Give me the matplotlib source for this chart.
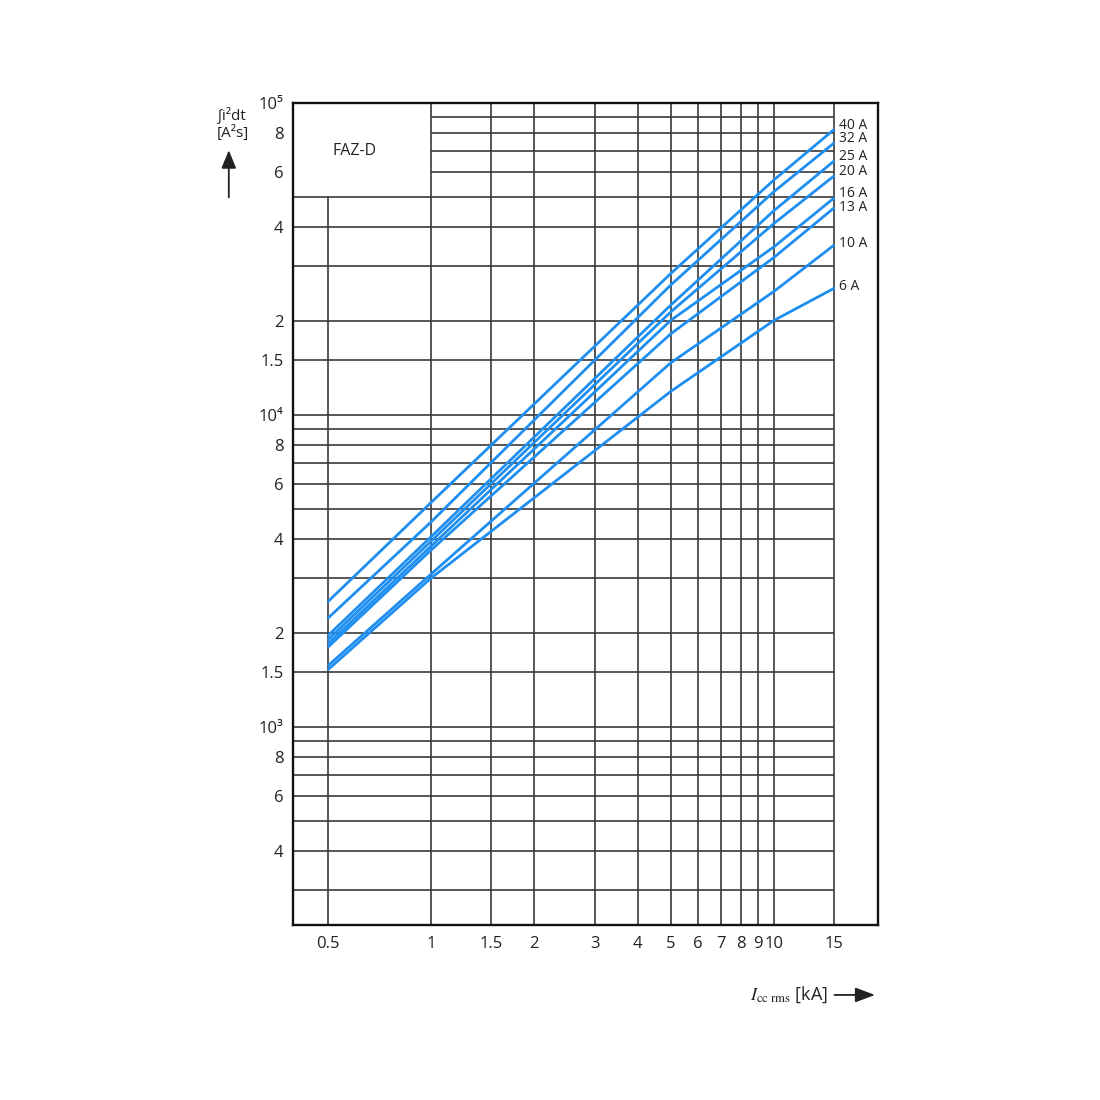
import matplotlib
matplotlib.use("Agg")
import matplotlib.pyplot as plt

FONT = ['Liberation Sans Narrow', 'Open Sans', 'DejaVu Sans']
plt.rcParams['font.family'] = FONT

# ---- data ----
currents_ka = [0.5, 1, 5, 10, 15]
ratings = ["40 A", "32 A", "25 A", "20 A", "16 A", "13 A", "10 A", "6 A"]
i2t_40 = [2520, 5240, 28400, 56700, 82400]
i2t_32 = [2230, 4540, 26100, 52000, 74600]
i2t_25 = [1960, 4070, 22500, 45200, 65300]
i2t_20 = [1900, 3940, 21400, 41100, 58500]
i2t_16 = [1845, 3800, 20100, 34600, 49700]
i2t_13 = [1800, 3690, 18200, 32000, 46200]
i2t_10 = [1570, 3090, 14700, 24900, 35100]
i2t_6 = [1525, 3000, 11900, 20100, 25500]
series = [i2t_40, i2t_32, i2t_25, i2t_20, i2t_16, i2t_13, i2t_10, i2t_6]

x_ticks = [0.5, 1, 1.5, 2, 3, 4, 5, 6, 7, 8, 9, 10, 15]
x_tick_labels = ["0.5", "1", "1.5", "2", "3", "4", "5", "6", "7", "8", "9", "10", "15"]
y_ticks = [400, 600, 800, 1000, 1500, 2000, 4000, 6000, 8000, 10000,
           15000, 20000, 40000, 60000, 80000, 100000]
y_tick_labels = ["4", "6", "8", "10³", "1.5", "2", "4", "6", "8", "10⁴",
                 "1.5", "2", "4", "6", "8", "10⁵"]
h_grid_full = [300, 400, 500, 600, 700, 800, 900, 1000, 1500, 2000, 3000, 4000,
               5000, 6000, 7000, 8000, 9000, 10000, 15000, 20000, 30000, 40000, 50000]
h_grid_upper = [60000, 70000, 80000, 90000]
v_grid_full = [1, 1.5, 2, 3, 4, 5, 6, 7, 8, 9, 10, 15]
v_grid_short = [0.5]

# label vertical offsets (points)
label_dy = [3, 3, 3, 3, 3, 0, 1, 1]

BLUE = '#1e8ff0'
GRID = '#3a3a3a'
TXT = '#222222'

fig = plt.figure(figsize=(11, 11), dpi=100)
ax = fig.add_axes([0.2664, 0.1591, 0.5318, 0.7473])
ax.set_xscale('log')
ax.set_yscale('log')
xmin, xmax = 0.396, 20.1
ymin, ymax = 232, 1e5
ax.set_xlim(xmin, xmax)
ax.set_ylim(ymin, ymax)

# grid
ax.hlines(h_grid_full, xmin, 15, color=GRID, lw=1.2, zorder=1)
ax.hlines(h_grid_upper, 1, 15, color=GRID, lw=1.2, zorder=1)
ax.vlines(v_grid_full, ymin, ymax, color=GRID, lw=1.2, zorder=1)
ax.vlines(v_grid_short, ymin, 50000, color=GRID, lw=1.2, zorder=1)

# curves
for vals, lab, dy in zip(series, ratings, label_dy):
    ax.plot(currents_ka, vals, color=BLUE, lw=2.0, zorder=3,
            solid_capstyle='butt', solid_joinstyle='round')
    ax.annotate(lab, (currents_ka[-1], vals[-1]), xytext=(3, dy),
                textcoords='offset points', va='center', ha='left',
                fontsize=10, color=TXT, family=FONT)

# ticks
ax.minorticks_off()
ax.set_xticks(x_ticks)
ax.set_xticklabels(x_tick_labels)
ax.set_yticks(y_ticks)
ax.set_yticklabels(y_tick_labels)
ax.tick_params(axis='both', length=0, labelsize=12, colors=TXT)
ax.tick_params(axis='x', pad=8)
ax.tick_params(axis='y', pad=7)

for s in ax.spines.values():
    s.set_linewidth(1.7)
    s.set_color('#111111')

# FAZ-D box text
ax.text(0.60, 70000, "FAZ-D", ha='center', va='center', fontsize=11.5,
        color=TXT)

# y-axis label and arrow
fig.text(0.211, 0.896, "∫i²dt", ha='center', va='center', fontsize=11,
         color=TXT, family=FONT)
fig.text(0.212, 0.879, "[A²s]", ha='center', va='center', fontsize=11,
         color=TXT, family=FONT)
fig.patches.append(matplotlib.patches.FancyArrowPatch(
    (0.208, 0.818), (0.208, 0.866), transform=fig.transFigure,
    arrowstyle='-|>,head_length=11,head_width=4.5', color=TXT, lw=1.3,
    mutation_scale=1))

# x-axis label and arrow
fig.text(0.7525, 0.0955, r"$I_{\mathrm{cc\ rms}}$ [kA]", ha='right', va='center',
         fontsize=13, color=TXT, family=FONT, math_fontfamily='stix')
fig.patches.append(matplotlib.patches.FancyArrowPatch(
    (0.756, 0.0955), (0.798, 0.0955), transform=fig.transFigure,
    arrowstyle='-|>,head_length=12,head_width=4.5', color=TXT, lw=1.3,
    mutation_scale=1))

fig.savefig("out.png", dpi=100, facecolor='white')
